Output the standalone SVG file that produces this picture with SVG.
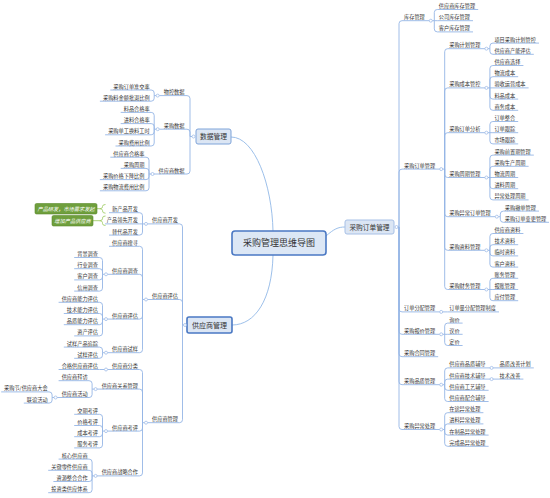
<svg xmlns="http://www.w3.org/2000/svg" width="550" height="498" viewBox="0 0 550 498">
<style>
text{font-family:"Noto Sans CJK SC","Noto Sans",sans-serif;fill:#333}
.t{font-size:5.2px}
.e{text-anchor:end}
.m{text-anchor:middle}
.u{fill:none;stroke:#95b5e5;stroke-width:0.9}
.c{fill:none;stroke:#95b5e5;stroke-width:0.9}
.k{fill:none;stroke:#9dc0ea;stroke-width:1}
.d{fill:#fff;stroke:#95b5e5;stroke-width:0.7}
.g{fill:#6f9f3d;stroke:#5a8a2c;stroke-width:0.6}
.gt{font-size:5.2px;fill:#fff;font-style:italic;text-anchor:middle}
.gb{fill:none;stroke:#a3cd6a;stroke-width:0.9}
</style>
<rect width="550" height="498" fill="#fff"/>
<g id="connectors">
<path class="k" d="M231 137C255 137 272 185 273 231"/>
<path class="k" d="M273 255C272 300 255 325 232 325"/>
<path class="k" d="M326 236C334 229 338 227 345 227"/>
<path class="c" d="M398 227H399M399 227V23.7Q399 20.7 402 20.7M399 227V172.1Q399 169.1 402 169.1M399 227V308.9Q399 311.9 402 311.9M399 227V331.3Q399 334.3 402 334.3M399 227V353.7Q399 356.7 402 356.7M399 227V381.7Q399 384.7 402 384.7M399 227V426.5Q399 429.5 402 429.5"/>
<path class="c" d="M432.3 20.7H434.3M434.3 20.7V12.5Q434.3 9.5 437.3 9.5M434.3 20.7H437.3M434.3 20.7V28.9Q434.3 31.9 437.3 31.9"/>
<path class="c" d="M442.7 169.1H444.7M444.7 169.1V51.7Q444.7 48.7 447.7 48.7M444.7 169.1V90.9Q444.7 87.9 447.7 87.9M444.7 169.1V135.7Q444.7 132.7 447.7 132.7M444.7 169.1V174.5Q444.7 177.5 447.7 177.5M444.7 169.1V213.7Q444.7 216.7 447.7 216.7M444.7 169.1V247.3Q444.7 250.3 447.7 250.3M444.7 169.1V286.5Q444.7 289.5 447.7 289.5"/>
<path class="c" d="M487.9 48.7H489.9M489.9 48.7V46.1Q489.9 43.1 492.9 43.1M489.9 48.7V51.3Q489.9 54.3 492.9 54.3"/>
<path class="c" d="M487.9 87.9H489.9M489.9 87.9V68.5Q489.9 65.5 492.9 65.5M489.9 87.9V79.7Q489.9 76.7 492.9 76.7M489.9 87.9H492.9M489.9 87.9V96.1Q489.9 99.1 492.9 99.1M489.9 87.9V107.3Q489.9 110.3 492.9 110.3"/>
<path class="c" d="M487.9 132.7H489.9M489.9 132.7V124.5Q489.9 121.5 492.9 121.5M489.9 132.7H492.9M489.9 132.7V140.9Q489.9 143.9 492.9 143.9"/>
<path class="c" d="M487.9 177.5H489.9M489.9 177.5V158.1Q489.9 155.1 492.9 155.1M489.9 177.5V169.3Q489.9 166.3 492.9 166.3M489.9 177.5H492.9M489.9 177.5V185.7Q489.9 188.7 492.9 188.7M489.9 177.5V196.9Q489.9 199.9 492.9 199.9"/>
<path class="c" d="M498.3 216.7H500.3M500.3 216.7V214.1Q500.3 211.1 503.3 211.1M500.3 216.7V219.3Q500.3 222.3 503.3 222.3"/>
<path class="c" d="M487.9 250.3H489.9M489.9 250.3V236.5Q489.9 233.5 492.9 233.5M489.9 250.3V247.7Q489.9 244.7 492.9 244.7M489.9 250.3V252.9Q489.9 255.9 492.9 255.9M489.9 250.3V264.1Q489.9 267.1 492.9 267.1"/>
<path class="c" d="M487.9 289.5H489.9M489.9 289.5V281.3Q489.9 278.3 492.9 278.3M489.9 289.5H492.9M489.9 289.5V297.7Q489.9 300.7 492.9 300.7"/>
<path class="c" d="M442.7 311.9H447.7"/>
<path class="c" d="M442.7 334.3H444.7M444.7 334.3V326.1Q444.7 323.1 447.7 323.1M444.7 334.3H447.7M444.7 334.3V342.5Q444.7 345.5 447.7 345.5"/>
<path class="c" d="M442.7 384.7H444.7M444.7 384.7V370.9Q444.7 367.9 447.7 367.9M444.7 384.7V382.1Q444.7 379.1 447.7 379.1M444.7 384.7V387.3Q444.7 390.3 447.7 390.3M444.7 384.7V398.5Q444.7 401.5 447.7 401.5"/>
<path class="c" d="M493.1 367.9H498.1M493.1 379.1H498.1"/>
<path class="c" d="M442.7 429.5H444.7M444.7 429.5V415.7Q444.7 412.7 447.7 412.7M444.7 429.5V426.9Q444.7 423.9 447.7 423.9M444.7 429.5V432.1Q444.7 435.1 447.7 435.1M444.7 429.5V443.3Q444.7 446.3 447.7 446.3"/>
<path class="c" d="M192 136.5H190M190 136.5V98.6Q190 95.6 187 95.6M190 136.5V132.2Q190 129.2 187 129.2M190 136.5V171Q190 174 187 174"/>
<path class="c" d="M156.2 95.6H154.2M154.2 95.6V93Q154.2 90 151.2 90M154.2 95.6V98.2Q154.2 101.2 151.2 101.2"/>
<path class="c" d="M156.2 129.2H154.2M154.2 129.2V115.4Q154.2 112.4 151.2 112.4M154.2 129.2V126.6Q154.2 123.6 151.2 123.6M154.2 129.2V131.8Q154.2 134.8 151.2 134.8M154.2 129.2V143Q154.2 146 151.2 146"/>
<path class="c" d="M151 174H149M149 174V160.2Q149 157.2 146 157.2M149 174V171.4Q149 168.4 146 168.4M149 174V176.6Q149 179.6 146 179.6M149 174V187.8Q149 190.8 146 190.8"/>
<path class="c" d="M183.5 325H182.5M182.5 325V226.9Q182.5 223.9 179.5 223.9M182.5 325V302.5Q182.5 299.5 179.5 299.5M182.5 325V419.7Q182.5 422.7 179.5 422.7"/>
<path class="c" d="M144.5 223.9H142.5M142.5 223.9V215.7Q142.5 212.7 139.5 212.7M142.5 223.9H139.5M142.5 223.9V232.1Q142.5 235.1 139.5 235.1"/>
<path class="c" d="M144.5 299.5H142.5M142.5 299.5V249.3Q142.5 246.3 139.5 246.3M142.5 299.5V277.3Q142.5 274.3 139.5 274.3M142.5 299.5V316.1Q142.5 319.1 139.5 319.1M142.5 299.5V349.7Q142.5 352.7 139.5 352.7"/>
<path class="c" d="M104.5 274.3H102.5M102.5 274.3V260.5Q102.5 257.5 99.5 257.5M102.5 274.3V271.7Q102.5 268.7 99.5 268.7M102.5 274.3V276.9Q102.5 279.9 99.5 279.9M102.5 274.3V288.1Q102.5 291.1 99.5 291.1"/>
<path class="c" d="M104.5 319.1H102.5M102.5 319.1V305.3Q102.5 302.3 99.5 302.3M102.5 319.1V316.5Q102.5 313.5 99.5 313.5M102.5 319.1V321.7Q102.5 324.7 99.5 324.7M102.5 319.1V332.9Q102.5 335.9 99.5 335.9"/>
<path class="c" d="M104.5 352.7H102.5M102.5 352.7V350.1Q102.5 347.1 99.5 347.1M102.5 352.7V355.3Q102.5 358.3 99.5 358.3"/>
<path class="c" d="M144.5 422.7H142.5M142.5 422.7V372.5Q142.5 369.5 139.5 369.5M142.5 422.7V392.1Q142.5 389.1 139.5 389.1M142.5 422.7V428.1Q142.5 431.1 139.5 431.1M142.5 422.7V472.9Q142.5 475.9 139.5 475.9"/>
<path class="c" d="M104.5 369.5H99.5"/>
<path class="c" d="M94.1 389.1H92.1M92.1 389.1V383.7Q92.1 380.7 89.1 380.7M92.1 389.1V394.5Q92.1 397.5 89.1 397.5"/>
<path class="c" d="M54.1 397.5H52.1M52.1 397.5V394.9Q52.1 391.9 49.1 391.9M52.1 397.5V400.1Q52.1 403.1 49.1 403.1"/>
<path class="c" d="M104.5 431.1H102.5M102.5 431.1V417.3Q102.5 414.3 99.5 414.3M102.5 431.1V428.5Q102.5 425.5 99.5 425.5M102.5 431.1V433.7Q102.5 436.7 99.5 436.7M102.5 431.1V444.9Q102.5 447.9 99.5 447.9"/>
<path class="c" d="M94.1 475.9H92.1M92.1 475.9V462.1Q92.1 459.1 89.1 459.1M92.1 475.9V473.3Q92.1 470.3 89.1 470.3M92.1 475.9V478.5Q92.1 481.5 89.1 481.5M92.1 475.9V489.7Q92.1 492.7 89.1 492.7"/>
<path class="gb" d="M105.5 204.5Q102.5 204.5 102.5 206.5V207Q102.5 208.7 99.5 208.7Q102.5 208.7 102.5 210.4V211Q102.5 213.2 105.5 213.2M97 208.7H99.5"/>
<path class="gb" d="M105.5 216Q102.5 216 102.5 218V218.7Q102.5 220.7 99.5 220.7Q102.5 220.7 102.5 222.7V223.5Q102.5 225.5 105.5 225.5M93 220.7H99.5"/>
</g>
<g id="root"><rect x="232" y="231" width="94" height="24" rx="3" fill="#dce7f5" stroke="#4a78c3" stroke-width="1.6"/><text class="m" x="279" y="246.4" font-size="9">采购管理思维导图</text></g>
<g id="n-shuju"><rect x="196" y="129" width="35" height="15" rx="2" fill="#dce6f4" stroke="#7fa4d9" stroke-width="1"/><text class="m" x="213.5" y="139.1" font-size="6.8">数据管理</text><circle class="d" cx="193.5" cy="136.5" r="1.5"/></g>
<g id="n-gysgl"><rect x="187" y="317" width="45" height="16" rx="2" fill="#dce6f4" stroke="#4a78c3" stroke-width="1.6"/><text class="m" x="209.5" y="327.7" font-size="7">供应商管理</text><circle class="d" cx="185" cy="325" r="1.5"/></g>
<g id="n-cgdd"><rect x="345" y="220" width="49" height="14" rx="2" fill="#dce6f4" stroke="#a7c0e6" stroke-width="1"/><text class="m" x="369.5" y="229.5" font-size="6.7">采购订单管理</text><circle class="d" cx="396.5" cy="227" r="1.5"/></g>

<g id="r-kucun"><text class="t" x="404" y="19.2">库存管理</text><path class="u" d="M402 20.7H429.3"/><circle class="d" cx="430.8" cy="20.7" r="1.5"/></g>
<g id="r-kc1"><text class="t" x="438.8" y="8">供应商库存管理</text><path class="u" d="M437.3 9.5H478.2"/></g>
<g id="r-kc2"><text class="t" x="438.8" y="19.2">公司库存管理</text><path class="u" d="M437.3 20.7H473"/></g>
<g id="r-kc3"><text class="t" x="438.8" y="30.4">客户库存管理</text><path class="u" d="M437.3 31.9H473"/></g>

<g id="r-cgddgl"><text class="t" x="404" y="167.6">采购订单管理</text><path class="u" d="M402 169.1H439.7"/><circle class="d" cx="441.2" cy="169.1" r="1.5"/></g>
<g id="r-jh"><text class="t" x="449.2" y="47.2">采购计划管理</text><path class="u" d="M447.7 48.7H484.9"/><circle class="d" cx="486.4" cy="48.7" r="1.5"/></g>
<g id="r-jh1"><text class="t" x="494.4" y="41.6">项目采购计划管控</text><path class="u" d="M492.9 43.1H539"/></g>
<g id="r-jh2"><text class="t" x="494.4" y="52.8">供应商产能评估</text><path class="u" d="M492.9 54.3H533.8"/></g>
<g id="r-cb"><text class="t" x="449.2" y="86.4">采购成本管控</text><path class="u" d="M447.7 87.9H484.9"/><circle class="d" cx="486.4" cy="87.9" r="1.5"/></g>
<g id="r-cb1"><text class="t" x="494.4" y="64">供应商选择</text><path class="u" d="M492.9 65.5H523.4"/></g>
<g id="r-cb2"><text class="t" x="494.4" y="75.2">物流成本</text><path class="u" d="M492.9 76.7H518.2"/></g>
<g id="r-cb3"><text class="t" x="494.4" y="86.4">验收运营成本</text><path class="u" d="M492.9 87.9H528.6"/></g>
<g id="r-cb4"><text class="t" x="494.4" y="97.6">料品成本</text><path class="u" d="M492.9 99.1H518.2"/></g>
<g id="r-cb5"><text class="t" x="494.4" y="108.8">商务成本</text><path class="u" d="M492.9 110.3H518.2"/></g>
<g id="r-fx"><text class="t" x="449.2" y="131.2">采购订单分析</text><path class="u" d="M447.7 132.7H484.9"/><circle class="d" cx="486.4" cy="132.7" r="1.5"/></g>
<g id="r-fx1"><text class="t" x="494.4" y="120">订单整合</text><path class="u" d="M492.9 121.5H518.2"/></g>
<g id="r-fx2"><text class="t" x="494.4" y="131.2">订单跟踪</text><path class="u" d="M492.9 132.7H518.2"/></g>
<g id="r-fx3"><text class="t" x="494.4" y="142.4">市场跟踪</text><path class="u" d="M492.9 143.9H518.2"/></g>
<g id="r-zq"><text class="t" x="449.2" y="176">采购周期管理</text><path class="u" d="M447.7 177.5H484.9"/><circle class="d" cx="486.4" cy="177.5" r="1.5"/></g>
<g id="r-zq1"><text class="t" x="494.4" y="153.6">采购前置期管理</text><path class="u" d="M492.9 155.1H533.8"/></g>
<g id="r-zq2"><text class="t" x="494.4" y="164.8">采购生产周期</text><path class="u" d="M492.9 166.3H528.6"/></g>
<g id="r-zq3"><text class="t" x="494.4" y="176">物流周期</text><path class="u" d="M492.9 177.5H518.2"/></g>
<g id="r-zq4"><text class="t" x="494.4" y="187.2">进料周期</text><path class="u" d="M492.9 188.7H518.2"/></g>
<g id="r-zq5"><text class="t" x="494.4" y="198.4">异常处理周期</text><path class="u" d="M492.9 199.9H528.6"/></g>
<g id="r-yc"><text class="t" x="449.2" y="215.2">采购异常订单管理</text><path class="u" d="M447.7 216.7H495.3"/><circle class="d" cx="496.8" cy="216.7" r="1.5"/></g>
<g id="r-yc1"><text class="t" x="504.8" y="209.6">采购撤单管理</text><path class="u" d="M503.3 211.1H539"/></g>
<g id="r-yc2"><text class="t" x="504.8" y="220.8">采购订单变更管理</text><path class="u" d="M503.3 222.3H549"/></g>
<g id="r-zl"><text class="t" x="449.2" y="248.8">采购资料管理</text><path class="u" d="M447.7 250.3H484.9"/><circle class="d" cx="486.4" cy="250.3" r="1.5"/></g>
<g id="r-zl1"><text class="t" x="494.4" y="232">供应商资料</text><path class="u" d="M492.9 233.5H523.4"/></g>
<g id="r-zl2"><text class="t" x="494.4" y="243.2">技术资料</text><path class="u" d="M492.9 244.7H518.2"/></g>
<g id="r-zl3"><text class="t" x="494.4" y="254.4">临时资料</text><path class="u" d="M492.9 255.9H518.2"/></g>
<g id="r-zl4"><text class="t" x="494.4" y="265.6">客户资料</text><path class="u" d="M492.9 267.1H518.2"/></g>
<g id="r-cw"><text class="t" x="449.2" y="288">采购财务管理</text><path class="u" d="M447.7 289.5H484.9"/><circle class="d" cx="486.4" cy="289.5" r="1.5"/></g>
<g id="r-cw1"><text class="t" x="494.4" y="276.8">账务管理</text><path class="u" d="M492.9 278.3H518.2"/></g>
<g id="r-cw2"><text class="t" x="494.4" y="288">报账管理</text><path class="u" d="M492.9 289.5H518.2"/></g>
<g id="r-cw3"><text class="t" x="494.4" y="299.2">应付管理</text><path class="u" d="M492.9 300.7H518.2"/></g>

<g id="r-fp"><text class="t" x="404" y="310.4">订单分配管理</text><path class="u" d="M402 311.9H439.7"/><circle class="d" cx="441.2" cy="311.9" r="1.5"/></g>
<g id="r-fp1"><text class="t" x="449.2" y="310.4">订单量分配管理制度</text><path class="u" d="M447.7 311.9H499"/></g>
<g id="r-bj"><text class="t" x="404" y="332.8">采购报价管理</text><path class="u" d="M402 334.3H439.7"/><circle class="d" cx="441.2" cy="334.3" r="1.5"/></g>
<g id="r-bj1"><text class="t" x="449.2" y="321.6">询价</text><path class="u" d="M447.7 323.1H462.6"/></g>
<g id="r-bj2"><text class="t" x="449.2" y="332.8">议价</text><path class="u" d="M447.7 334.3H462.6"/></g>
<g id="r-bj3"><text class="t" x="449.2" y="344">定价</text><path class="u" d="M447.7 345.5H462.6"/></g>
<g id="r-ht"><text class="t" x="404" y="355.2">采购合同管理</text><path class="u" d="M402 356.7H438.2"/></g>
<g id="r-pz"><text class="t" x="404" y="383.2">采购品质管理</text><path class="u" d="M402 384.7H439.7"/><circle class="d" cx="441.2" cy="384.7" r="1.5"/></g>
<g id="r-pz1"><text class="t" x="449.2" y="366.4">供应商品质辅导</text><path class="u" d="M447.7 367.9H490.1"/><circle class="d" cx="491.6" cy="367.9" r="1.5"/></g>
<g id="r-pz1a"><text class="t" x="499.6" y="366.4">品质改善计划</text><path class="u" d="M498.1 367.9H533.8"/></g>
<g id="r-pz2"><text class="t" x="449.2" y="377.6">供应商技术辅导</text><path class="u" d="M447.7 379.1H490.1"/><circle class="d" cx="491.6" cy="379.1" r="1.5"/></g>
<g id="r-pz2a"><text class="t" x="499.6" y="377.6">技术改善</text><path class="u" d="M498.1 379.1H523.4"/></g>
<g id="r-pz3"><text class="t" x="449.2" y="388.8">供应商工艺辅导</text><path class="u" d="M447.7 390.3H488.6"/></g>
<g id="r-pz4"><text class="t" x="449.2" y="400">供应商配合辅导</text><path class="u" d="M447.7 401.5H488.6"/></g>
<g id="r-yccl"><text class="t" x="404" y="428">采购异常处理</text><path class="u" d="M402 429.5H439.7"/><circle class="d" cx="441.2" cy="429.5" r="1.5"/></g>
<g id="r-yccl1"><text class="t" x="449.2" y="411.2">在途异常处理</text><path class="u" d="M447.7 412.7H483.4"/></g>
<g id="r-yccl2"><text class="t" x="449.2" y="422.4">进料异常处理</text><path class="u" d="M447.7 423.9H483.4"/></g>
<g id="r-yccl3"><text class="t" x="449.2" y="433.6">在制品异常处理</text><path class="u" d="M447.7 435.1H488.6"/></g>
<g id="r-yccl4"><text class="t" x="449.2" y="444.8">完成品异常处理</text><path class="u" d="M447.7 446.3H488.6"/></g>

<g id="l-wk"><text class="t e" x="184.5" y="94.1">物控数据</text><path class="u" d="M187 95.6H159.2"/><circle class="d" cx="157.7" cy="95.6" r="1.5"/></g>
<g id="l-wk1"><text class="t e" x="149.7" y="88.5">采购订单准交率</text><path class="u" d="M151.2 90H110.3"/></g>
<g id="l-wk2"><text class="t e" x="149.7" y="99.7">采购料金额批退比例</text><path class="u" d="M151.2 101.2H99.9"/></g>
<g id="l-cg"><text class="t e" x="184.5" y="127.7">采购数据</text><path class="u" d="M187 129.2H159.2"/><circle class="d" cx="157.7" cy="129.2" r="1.5"/></g>
<g id="l-cg1"><text class="t e" x="149.7" y="110.9">料品合格率</text><path class="u" d="M151.2 112.4H120.7"/></g>
<g id="l-cg2"><text class="t e" x="149.7" y="122.1">进料合格率</text><path class="u" d="M151.2 123.6H120.7"/></g>
<g id="l-cg3"><text class="t e" x="149.7" y="133.3">采购单工换料工时</text><path class="u" d="M151.2 134.8H105.1"/></g>
<g id="l-cg4"><text class="t e" x="149.7" y="144.5">采购费用比例</text><path class="u" d="M151.2 146H115.5"/></g>
<g id="l-gys"><text class="t e" x="184.5" y="172.5">供应商数据</text><path class="u" d="M187 174H154"/><circle class="d" cx="152.5" cy="174" r="1.5"/></g>
<g id="l-gys1"><text class="t e" x="144.5" y="155.7">供应商合格率</text><path class="u" d="M146 157.2H110.3"/></g>
<g id="l-gys2"><text class="t e" x="144.5" y="166.9">采购周期</text><path class="u" d="M146 168.4H120.7"/></g>
<g id="l-gys3"><text class="t e" x="144.5" y="178.1">采购价格下降比例</text><path class="u" d="M146 179.6H99.9"/></g>
<g id="l-gys4"><text class="t e" x="144.5" y="189.3">采购物流费用比例</text><path class="u" d="M146 190.8H99.9"/></g>

<g id="l-kf"><text class="t e" x="178" y="222.4">供应商开发</text><path class="u" d="M179.5 223.9H147.5"/><circle class="d" cx="146" cy="223.9" r="1.5"/></g>
<g id="l-kf1"><text class="t e" x="138" y="211.2">新产品开发</text><path class="u" d="M139.5 212.7H109"/></g>
<g id="l-kf2"><text class="t e" x="138" y="222.4">产品领先开发</text><path class="u" d="M139.5 223.9H105"/></g>
<g id="l-kf3"><text class="t e" x="138" y="233.6">替代品开发</text><path class="u" d="M139.5 235.1H109"/></g>
<g id="l-sum1"><rect class="g" x="35" y="203.5" width="62" height="10.5" rx="1.5"/><text class="gt" x="66" y="210.8">产品研发，市场需求发起</text></g>
<g id="l-sum2"><rect class="g" x="52" y="215.5" width="41" height="10.5" rx="1.5"/><text class="gt" x="72.5" y="222.8">增加产品供应商</text></g>

<g id="l-pg"><text class="t e" x="178" y="298">供应商评估</text><path class="u" d="M179.5 299.5H147.5"/><circle class="d" cx="146" cy="299.5" r="1.5"/></g>
<g id="l-ss"><text class="t e" x="138" y="244.8">供应商搜寻</text><path class="u" d="M139.5 246.3H109"/></g>
<g id="l-dc"><text class="t e" x="138" y="272.8">供应商调查</text><path class="u" d="M139.5 274.3H107.5"/><circle class="d" cx="106" cy="274.3" r="1.5"/></g>
<g id="l-dc1"><text class="t e" x="98" y="256">背景调查</text><path class="u" d="M99.5 257.5H74.2"/></g>
<g id="l-dc2"><text class="t e" x="98" y="267.2">行业调查</text><path class="u" d="M99.5 268.7H74.2"/></g>
<g id="l-dc3"><text class="t e" x="98" y="278.4">客户调查</text><path class="u" d="M99.5 279.9H74.2"/></g>
<g id="l-dc4"><text class="t e" x="98" y="289.6">信用调查</text><path class="u" d="M99.5 291.1H74.2"/></g>
<g id="l-pg3"><text class="t e" x="138" y="317.6">供应商评估</text><path class="u" d="M139.5 319.1H107.5"/><circle class="d" cx="106" cy="319.1" r="1.5"/></g>
<g id="l-pg31"><text class="t e" x="98" y="300.8">供应商能力评估</text><path class="u" d="M99.5 302.3H58.6"/></g>
<g id="l-pg32"><text class="t e" x="98" y="312">技术能力评估</text><path class="u" d="M99.5 313.5H63.8"/></g>
<g id="l-pg33"><text class="t e" x="98" y="323.2">品质能力评估</text><path class="u" d="M99.5 324.7H63.8"/></g>
<g id="l-pg34"><text class="t e" x="98" y="334.4">资产评估</text><path class="u" d="M99.5 335.9H74.2"/></g>
<g id="l-sy"><text class="t e" x="138" y="351.2">供应商试样</text><path class="u" d="M139.5 352.7H107.5"/><circle class="d" cx="106" cy="352.7" r="1.5"/></g>
<g id="l-sy1"><text class="t e" x="98" y="345.6">试样产品追踪</text><path class="u" d="M99.5 347.1H63.8"/></g>
<g id="l-sy2"><text class="t e" x="98" y="356.8">试样评估</text><path class="u" d="M99.5 358.3H74.2"/></g>

<g id="l-gl"><text class="t e" x="178" y="421.2">供应商管理</text><path class="u" d="M179.5 422.7H147.5"/><circle class="d" cx="146" cy="422.7" r="1.5"/></g>
<g id="l-fl"><text class="t e" x="138" y="368">供应商分类</text><path class="u" d="M139.5 369.5H107.5"/><circle class="d" cx="106" cy="369.5" r="1.5"/></g>
<g id="l-fl1"><text class="t e" x="98" y="368">合格供应商评估</text><path class="u" d="M99.5 369.5H58.6"/></g>
<g id="l-gx"><text class="t e" x="138" y="387.6">供应商关系管理</text><path class="u" d="M139.5 389.1H97.1"/><circle class="d" cx="95.6" cy="389.1" r="1.5"/></g>
<g id="l-gx1"><text class="t e" x="87.6" y="379.2">供应商拜访</text><path class="u" d="M89.1 380.7H58.6"/></g>
<g id="l-gx2"><text class="t e" x="87.6" y="396">供应商活动</text><path class="u" d="M89.1 397.5H57.1"/><circle class="d" cx="55.6" cy="397.5" r="1.5"/></g>
<g id="l-gx21"><text class="t e" x="47.6" y="390.4">采购节/供应商大会</text><path class="u" d="M49.1 391.9H1.2"/></g>
<g id="l-gx22"><text class="t e" x="47.6" y="401.6">联谊活动</text><path class="u" d="M49.1 403.1H23.8"/></g>
<g id="l-kp"><text class="t e" x="138" y="429.6">供应商考评</text><path class="u" d="M139.5 431.1H107.5"/><circle class="d" cx="106" cy="431.1" r="1.5"/></g>
<g id="l-kp1"><text class="t e" x="98" y="412.8">交期考评</text><path class="u" d="M99.5 414.3H74.2"/></g>
<g id="l-kp2"><text class="t e" x="98" y="424">价格考评</text><path class="u" d="M99.5 425.5H74.2"/></g>
<g id="l-kp3"><text class="t e" x="98" y="435.2">成本考评</text><path class="u" d="M99.5 436.7H74.2"/></g>
<g id="l-kp4"><text class="t e" x="98" y="446.4">服务考评</text><path class="u" d="M99.5 447.9H74.2"/></g>
<g id="l-zl"><text class="t e" x="138" y="474.4">供应商战略合作</text><path class="u" d="M139.5 475.9H97.1"/><circle class="d" cx="95.6" cy="475.9" r="1.5"/></g>
<g id="l-zl1"><text class="t e" x="87.6" y="457.6">核心供应商</text><path class="u" d="M89.1 459.1H58.6"/></g>
<g id="l-zl2"><text class="t e" x="87.6" y="468.8">关键零件供应商</text><path class="u" d="M89.1 470.3H48.2"/></g>
<g id="l-zl3"><text class="t e" x="87.6" y="480">资源整合合作</text><path class="u" d="M89.1 481.5H53.4"/></g>
<g id="l-zl4"><text class="t e" x="87.6" y="491.2">投资类供应体系</text><path class="u" d="M89.1 492.7H48.2"/></g>
</svg>
